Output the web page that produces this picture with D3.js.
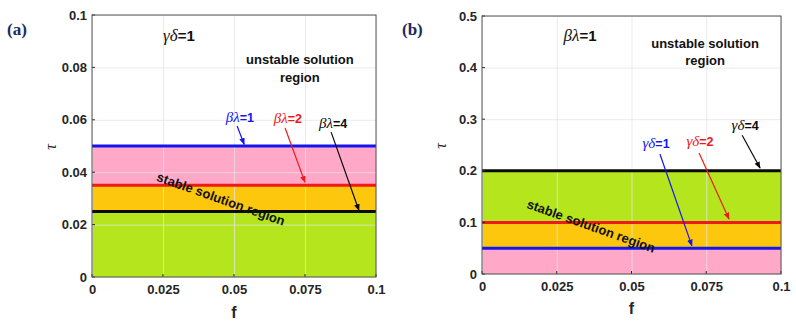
<!DOCTYPE html>
<html>
<head>
<meta charset="utf-8">
<script src="https://cdn.jsdelivr.net/npm/d3@7"></script>
<style>
  body { margin: 0; background: #fff; }
  svg { display: block; font-family: Arial, "Liberation Sans", sans-serif; }
</style>
</head>
<body>
<div id="main-container"></div>
<script>
const WIDTH = 796
const HEIGHT = 326
const SERIF = '"Liberation Serif", "Times New Roman", serif'

const X_TICKS = [0, 0.025, 0.05, 0.075, 0.1]
const X_TICK_LABELS = ['0', '0.025', '0.05', '0.075', '0.1']

// panel (a): gamma*delta = 1, curves for beta*lambda
const A_Y_TICKS = [0, 0.02, 0.04, 0.06, 0.08, 0.1]
const A_Y_TICK_LABELS = ['0', '0.02', '0.04', '0.06', '0.08', '0.1']
const A_LEVELS = [0.05, 0.035, 0.025]
const A_LEVEL_NAMES = ['1', '2', '4']
const A_BANDS = [[0.035, 0.05], [0.025, 0.035], [0, 0.025]]

// panel (b): beta*lambda = 1, curves for gamma*delta
const B_Y_TICKS = [0, 0.1, 0.2, 0.3, 0.4, 0.5]
const B_Y_TICK_LABELS = ['0', '0.1', '0.2', '0.3', '0.4', '0.5']
const B_LEVELS = [0.05, 0.1, 0.2]
const B_LEVEL_NAMES = ['1', '2', '4']
const B_BANDS = [[0, 0.05], [0.05, 0.1], [0.1, 0.2]]

const LINE_COLORS = ['#1515ee', '#f01818', '#0a0a0a']
const BAND_COLORS = ['#ffa8c8', '#fdc70e', '#b5e61d']

const PANELS = [
  {
    tag: '(a)', tagX: 7, left: 92, right: 376, top: 15, bottom: 277, yMax: 0.1,
    yTicks: A_Y_TICKS, yLabels: A_Y_TICK_LABELS,
    levels: A_LEVELS, names: A_LEVEL_NAMES, bands: A_BANDS,
    sym: 'βλ', title: ['γδ', 0.0306, 0.0901],
    unstable: [0.0732, 0.0812, 0.0745],
    stable: [0.0454, 0.0298],
    // label x, label y, arrow tail x, tail y, arrow tip x, tip y
    notes: [
      [0.0521, 0.0593, 0.0511, 0.0576, 0.0536, 0.0506],
      [0.0690, 0.0588, 0.0680, 0.0569, 0.0750, 0.0361],
      [0.0849, 0.0570, 0.0842, 0.0553, 0.0940, 0.0254]
    ],
    xLabelY: 318
  },
  {
    tag: '(b)', tagX: 402, left: 482, right: 781, top: 16, bottom: 274, yMax: 0.5,
    yTicks: B_Y_TICKS, yLabels: B_Y_TICK_LABELS,
    levels: B_LEVELS, names: B_LEVEL_NAMES, bands: B_BANDS,
    sym: 'γδ', title: ['βλ', 0.0328, 0.4516],
    unstable: [0.0746, 0.438, 0.405],
    stable: [0.0365, 0.093],
    notes: [
      [0.0582, 0.245, 0.0595, 0.2326, 0.0702, 0.0545],
      [0.0729, 0.249, 0.0726, 0.2345, 0.0826, 0.1066],
      [0.0880, 0.280, 0.0870, 0.2690, 0.0930, 0.2054]
    ],
    xLabelY: 314
  }
]

const SVG = d3.select('#main-container')
  .append('svg')
  .attr('width', WIDTH)
  .attr('height', HEIGHT)

const defs = SVG.append('defs')
LINE_COLORS.forEach((c, i) => {
  defs.append('marker')
    .attr('id', 'arrow' + i)
    .attr('viewBox', '0 0 10 10')
    .attr('refX', 9).attr('refY', 5)
    .attr('markerWidth', 7).attr('markerHeight', 7)
    .attr('markerUnits', 'userSpaceOnUse')
    .attr('orient', 'auto')
    .append('path')
    .attr('d', 'M0,1 L10,5 L0,9 Z')
    .attr('fill', c)
})

PANELS.forEach(p => {
  const x = d3.scaleLinear().domain([0, 0.1]).range([p.left, p.right])
  const y = d3.scaleLinear().domain([0, p.yMax]).range([p.bottom, p.top])
  const g = SVG.append('g')

  // coloured bands
  g.selectAll('rect.band')
    .data(p.bands)
    .enter()
    .append('rect')
    .attr('x', x(0))
    .attr('y', d => y(d[1]))
    .attr('width', x(0.1) - x(0))
    .attr('height', d => y(d[0]) - y(d[1]))
    .attr('fill', (_, i) => BAND_COLORS[i])

  // grid
  g.append('g')
    .attr('transform', `translate(0, ${p.bottom})`)
    .call(d3.axisBottom(x).tickValues(X_TICKS).tickSize(-(p.bottom - p.top)).tickFormat(''))
    .call(s => s.select('.domain').remove())
    .call(s => s.selectAll('line').attr('stroke', '#e4e4e4').attr('stroke-opacity', 0.75))
  g.append('g')
    .attr('transform', `translate(${p.left}, 0)`)
    .call(d3.axisLeft(y).tickValues(p.yTicks).tickSize(-(p.right - p.left)).tickFormat(''))
    .call(s => s.select('.domain').remove())
    .call(s => s.selectAll('line').attr('stroke', '#e4e4e4').attr('stroke-opacity', 0.75))

  // threshold lines
  g.selectAll('line.level')
    .data(p.levels)
    .enter()
    .append('line')
    .attr('x1', x(0)).attr('x2', x(0.1))
    .attr('y1', d => y(d)).attr('y2', d => y(d))
    .attr('stroke', (_, i) => LINE_COLORS[i])
    .attr('stroke-width', 3)

  // axes
  const xAxis = g.append('g')
    .attr('transform', `translate(0, ${p.bottom})`)
    .call(d3.axisBottom(x).tickValues(X_TICKS).tickSize(0).tickPadding(8)
      .tickFormat((_, i) => X_TICK_LABELS[i]))
  const yAxis = g.append('g')
    .attr('transform', `translate(${p.left}, 0)`)
    .call(d3.axisLeft(y).tickValues(p.yTicks).tickSize(0).tickPadding(5)
      .tickFormat((_, i) => p.yLabels[i]))
  ;[xAxis, yAxis].forEach(a => {
    a.select('.domain').remove()
    a.selectAll('text')
      .style('font-family', 'Arial, "Liberation Sans", sans-serif')
      .attr('font-size', 13)
      .attr('font-weight', 'bold')
      .attr('fill', '#262626')
  })
  // small inward ticks
  g.selectAll('line.tx')
    .data(X_TICKS)
    .enter()
    .append('line')
    .attr('x1', d => x(d)).attr('x2', d => x(d))
    .attr('y1', p.bottom).attr('y2', p.bottom - 3)
    .attr('stroke', '#262626')
  g.selectAll('line.ty')
    .data(p.yTicks)
    .enter()
    .append('line')
    .attr('x1', p.left).attr('x2', p.left + 3)
    .attr('y1', d => y(d)).attr('y2', d => y(d))
    .attr('stroke', '#262626')

  // frame
  g.append('rect')
    .attr('x', p.left).attr('y', p.top)
    .attr('width', p.right - p.left).attr('height', p.bottom - p.top)
    .attr('fill', 'none')
    .attr('stroke', '#555')
    .attr('stroke-width', 1)

  // axis labels
  g.append('text')
    .attr('x', (p.left + p.right) / 2)
    .attr('y', p.xLabelY)
    .attr('text-anchor', 'middle')
    .attr('font-size', 16)
    .attr('font-weight', 'bold')
    .attr('fill', '#262626')
    .text('f')
  g.append('text')
    .attr('transform', `translate(${p.left - 42}, ${(p.top + p.bottom) / 2 + 1}) rotate(-90)`)
    .attr('text-anchor', 'middle')
    .attr('dominant-baseline', 'central')
    .style('font-family', SERIF)
    .attr('font-style', 'italic')
    .attr('font-size', 16)
    .attr('fill', '#262626')
    .text('τ')

  // panel tag
  g.append('text')
    .attr('x', p.tagX).attr('y', 35)
    .style('font-family', SERIF)
    .attr('font-weight', 'bold')
    .attr('font-size', 17)
    .attr('fill', '#1c2a5e')
    .text(p.tag)

  // in-plot title
  const t = g.append('text')
    .attr('x', x(p.title[1])).attr('y', y(p.title[2]))
    .attr('text-anchor', 'middle')
    .attr('font-size', 14)
    .attr('fill', '#111')
  t.append('tspan')
    .style('font-family', SERIF)
    .attr('font-style', 'italic')
    .attr('font-size', 17)
    .text(p.title[0])
  t.append('tspan').attr('font-weight', 'bold').attr('font-size', 15).text('=1')

  // region texts
  ;['unstable solution', 'region'].forEach((s, i) => {
    g.append('text')
      .attr('x', x(p.unstable[0])).attr('y', y(p.unstable[1 + i]))
      .attr('text-anchor', 'middle')
      .attr('font-size', 13)
      .attr('font-weight', 'bold')
      .attr('fill', '#111')
      .text(s)
  })
  g.append('text')
    .attr('transform', `translate(${x(p.stable[0])}, ${y(p.stable[1])}) rotate(19.5)`)
    .attr('text-anchor', 'middle')
    .attr('dominant-baseline', 'central')
    .attr('font-size', 13)
    .attr('font-weight', 'bold')
    .attr('fill', '#111')
    .text('stable solution region')

  // curve labels and arrows
  p.notes.forEach((n, i) => {
    g.append('line')
      .attr('x1', x(n[2])).attr('y1', y(n[3]))
      .attr('x2', x(n[4])).attr('y2', y(n[5]))
      .attr('stroke', LINE_COLORS[i])
      .attr('stroke-width', 1.2)
      .attr('marker-end', `url(#arrow${i})`)
    const lt = g.append('text')
      .attr('x', x(n[0])).attr('y', y(n[1]))
      .attr('text-anchor', 'middle')
      .attr('font-size', 12.5)
      .attr('fill', LINE_COLORS[i])
    lt.append('tspan')
      .style('font-family', SERIF)
      .attr('font-style', 'italic')
      .attr('font-size', 15)
      .text(p.sym)
    lt.append('tspan').attr('font-weight', 'bold').text('=' + p.names[i])
  })
})
</script>
</body>
</html>
